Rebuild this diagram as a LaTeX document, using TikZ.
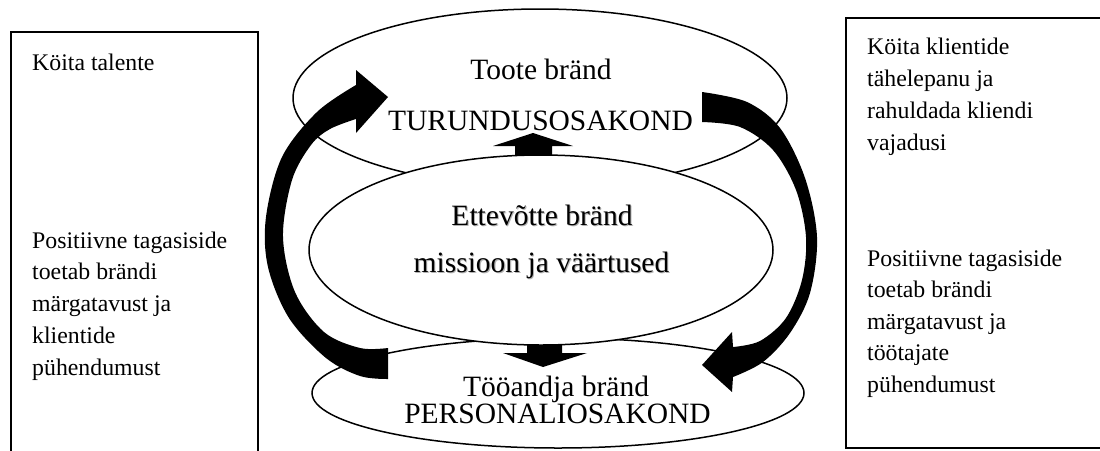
\documentclass[tikz,border=0pt]{standalone}
\usepackage{fontspec}
\setmainfont{Liberation Serif}
\usetikzlibrary{shapes.geometric}
\begin{document}
\begin{tikzpicture}[x=1pt,y=-1pt,
  boxline/.style={draw=black,line width=2pt},
  ell/.style={draw=black,fill=white,line width=1.5pt,ellipse,inner sep=0pt},
  blk/.style={fill=black},
  sidetext/.style={inner sep=0pt,anchor=base west,font=\fontsize{23.8}{31.8}\selectfont},
  elltext/.style={inner sep=0pt,anchor=base,font=\fontsize{29.5}{30}\selectfont},
  shadowtext/.style={elltext,text=black!30}]
\path[use as bounding box,clip] (0,0) rectangle (1100,450);
\fill[white] (0,0) rectangle (1100,450);
% side boxes
\draw[boxline] (11,32) rectangle (258,470);
\draw[boxline] (846,18) rectangle (1120,448);
\node[sidetext] (l1) at (32,70) {\parbox[t]{220pt}{\raggedright K\"oita talente}};
\node[sidetext] (l2) at (32,248) {\parbox[t]{220pt}{\raggedright\baselineskip=31.8pt Positiivne tagasiside\\toetab br\"andi\\m\"argatavust ja\\klientide\\p\"uhendumust}};
\node[sidetext] (r1) at (867,54) {\parbox[t]{228pt}{\raggedright\baselineskip=32.3pt K\"oita klientide\\t\"ahelepanu ja\\rahuldada kliendi\\vajadusi}};
\node[sidetext] (r2) at (867,266) {\parbox[t]{228pt}{\raggedright\baselineskip=31.5pt Positiivne tagasiside\\toetab br\"andi\\m\"argatavust ja\\t\"o\"otajate\\p\"uhendumust}};
% ellipses
\node[ell,minimum width=494pt,minimum height=178pt] (top) at (540,98) {};
\node[ell,minimum width=492pt,minimum height=110pt] (bot) at (558,393) {};
% small arrows (partly hidden by middle ellipse)
\fill[blk] (515,165) -- (515,146) -- (493,146) -- (533,133) -- (573,146) -- (552,146) -- (552,165) -- cycle;
\fill[blk] (527,330) -- (527,353) -- (503,353) -- (543,367) -- (587,353) -- (562,353) -- (562,330) -- cycle;
\node[ell,minimum width=464pt,minimum height=190pt] (mid) at (541,250) {};
% big curved arrows
\fill[blk] plot[smooth,tension=0.55] coordinates {(388,379) (360,376) (326,358) (289,318) (268,267) (266,217) (282,157) (317,112) (356,85)}
  -- (356,70) -- (388,97) -- (356,133) --
  plot[smooth,tension=0.55] coordinates {(356,119) (330,129) (311,145) (292,180) (283,237) (295,292) (324,332) (360,348) (388,348)} -- cycle;
\fill[blk] plot[smooth,tension=0.55] coordinates {(702,92) (747,102) (780,128) (805,178) (817,237) (810,293) (790,333) (763,362) (733,377)}
  -- (732,392) -- (702,365) -- (732,332) --
  plot[smooth,tension=0.55] coordinates {(733,347) (760,341) (786,318) (802,280) (806,237) (796,190) (773,150) (740,127) (702,122)} -- cycle;
% ellipse texts
\node[elltext] (t1) at (541,79) {Toote br\"and};
\node[elltext] (t2) at (540.5,130) {TURUNDUSOSAKOND};
\node[shadowtext] (m1s) at (543,226) {Ettev\~otte br\"and};
\node[shadowtext] (m2s) at (542.5,273) {missioon ja v\"a\"artused};
\node[elltext] (m1) at (542,225) {Ettev\~otte br\"and};
\node[elltext] (m2) at (541.5,272) {missioon ja v\"a\"artused};
\node[elltext] (b1) at (556,396) {T\"o\"oandja br\"and};
\node[elltext] (b2) at (557.5,423) {PERSONALIOSAKOND};
\end{tikzpicture}
\end{document}
